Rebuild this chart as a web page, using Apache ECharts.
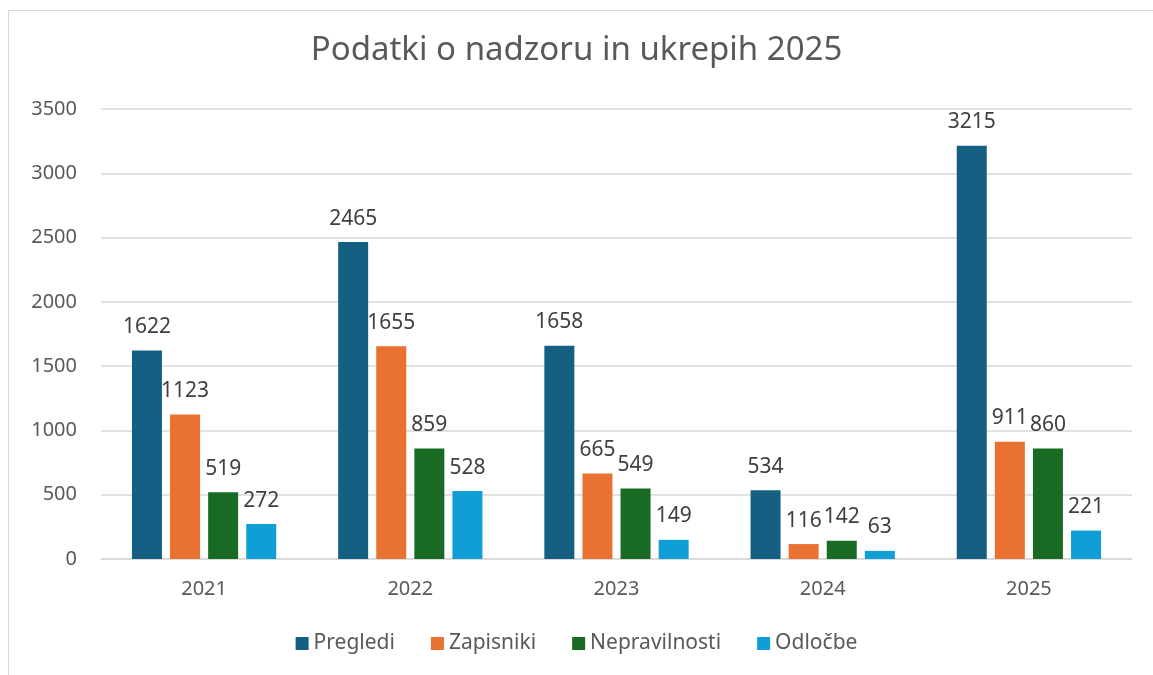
<!DOCTYPE html>
<html>
<head>
<meta charset="utf-8">
<script src="https://cdn.jsdelivr.net/npm/echarts@6/dist/echarts.min.js"></script>
<style>
	body{margin:0;background:#fff;}
	#frame{position:absolute;left:8px;top:10px;width:1200px;height:700px;border-left:1.5px solid #d9d9d9;border-top:1.5px solid #d9d9d9;}
	#chartmain{position:absolute;left:0;top:0;width:1153px;height:675px;}
</style>
</head>
<body>
<div id="frame"></div>
<div id="chartmain"></div>
<script>
var years = ['2021','2022','2023','2024','2025'];
var pregledi = [1622, 2465, 1658, 534, 3215];
var zapisniki = [1123, 1655, 665, 116, 911];
var nepravilnosti = [519, 859, 549, 142, 860];
var odlocbe = [272, 528, 149, 63, 221];

var fontName = '"Noto Sans", "Open Sans", sans-serif';

function makeSeries(name, data, color){
	return {
		name: name,
		type: 'bar',
		data: data,
		barWidth: 30,
		barGap: '27%',
		itemStyle: {color: color},
		label: {
			show: true,
			position: 'top',
			distance: 13,
			color: '#404040',
			fontSize: 21,
			fontFamily: fontName
		}
	};
}

var myChart = echarts.init(document.getElementById('chartmain'));
var option = {
	animation: false,
	title: {
		text: 'Podatki o nadzoru in ukrepih 2025',
		left: 'center',
		top: 29,
		textStyle: {color: '#595959', fontSize: 33, fontWeight: 'normal', fontFamily: fontName}
	},
	legend: {
		bottom: 16,
		left: 'center',
		itemWidth: 13,
		itemHeight: 13,
		itemGap: 36,
		icon: 'rect',
		textStyle: {color: '#595959', fontSize: 21, fontFamily: fontName},
		data: ['Pregledi', 'Zapisniki', 'Nepravilnosti', 'Odločbe']
	},
	grid: {
		left: 101,
		right: 21,
		top: 109,
		bottom: 116
	},
	xAxis: {
		type: 'category',
		data: years,
		axisTick: {show: false},
		axisLine: {lineStyle: {color: '#d9d9d9', width: 1.5}},
		axisLabel: {color: '#595959', fontSize: 20, margin: 20, fontFamily: fontName}
	},
	yAxis: {
		type: 'value',
		min: 0,
		max: 3500,
		interval: 500,
		axisLabel: {
			color: '#595959', fontSize: 20, margin: 24, fontFamily: fontName,
			formatter: function(v){ return String(v); }
		},
		splitLine: {lineStyle: {color: '#d9d9d9', width: 1.5}}
	},
	series: [
		makeSeries('Pregledi', pregledi, '#156082'),
		makeSeries('Zapisniki', zapisniki, '#E97132'),
		makeSeries('Nepravilnosti', nepravilnosti, '#196B24'),
		makeSeries('Odločbe', odlocbe, '#0F9ED5')
	]
};
myChart.setOption(option);
</script>
</body>
</html>
